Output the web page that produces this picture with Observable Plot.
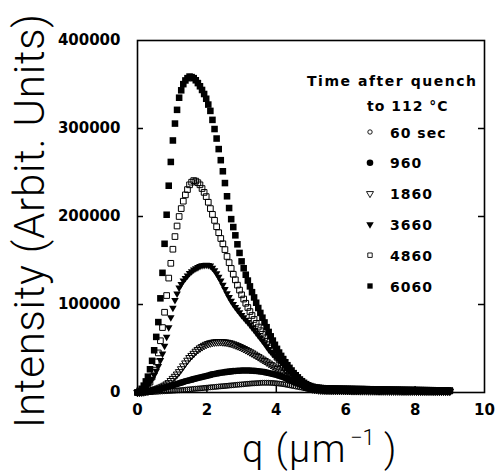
<!DOCTYPE html>
<html><head><meta charset="utf-8">
<script src="https://cdn.jsdelivr.net/npm/d3@7"></script>
<script src="https://cdn.jsdelivr.net/npm/@observablehq/plot@0.6"></script>
<style>html,body{margin:0;padding:0;background:#fff;}#chart{width:498px;height:472px;}</style>
</head><body><div id="chart"></div>
<script>
// q values (µm^-1), shared by all series
const q = [
0,0.06,0.12,0.18,0.24,0.3,0.36,0.42,0.48,0.54,
0.6,0.66,0.72,0.78,0.84,0.9,0.96,1.02,1.08,1.14,
1.2,1.26,1.32,1.38,1.44,1.5,1.56,1.62,1.68,1.74,
1.8,1.86,1.92,1.98,2.04,2.1,2.16,2.22,2.28,2.34,
2.4,2.46,2.52,2.58,2.64,2.7,2.76,2.82,2.88,2.94,
3,3.06,3.12,3.18,3.24,3.3,3.36,3.42,3.48,3.54,
3.6,3.66,3.72,3.78,3.84,3.9,3.96,4.02,4.08,4.14,
4.2,4.26,4.32,4.38,4.44,4.5,4.56,4.62,4.68,4.74,
4.8,4.86,4.92,4.98,5.04,5.1,5.16,5.22,5.28,5.34,
5.4,5.46,5.52,5.58,5.64,5.7,5.76,5.82,5.88,5.94,
6,6.06,6.12,6.18,6.24,6.3,6.36,6.42,6.48,6.54,
6.6,6.66,6.72,6.78,6.84,6.9,6.96,7.02,7.08,7.14,
7.2,7.26,7.32,7.38,7.44,7.5,7.56,7.62,7.68,7.74,
7.8,7.86,7.92,7.98,8.04,8.1,8.16,8.22,8.28,8.34,
8.4,8.46,8.52,8.58,8.64,8.7,8.76,8.82,8.88,8.94,
9];

const int60 = [
0,100,100,200,300,300,400,500,700,800,
1000,1200,1300,1500,1600,1800,1900,2100,2200,2400,
2500,2700,2900,3100,3400,3600,3800,4100,4300,4500,
4700,4900,5200,5400,5600,5900,6100,6300,6500,6800,
7000,7200,7400,7600,7900,8100,8300,8600,8800,9000,
9200,9400,9700,9900,10100,10300,10400,10600,10700,10900,
11000,11000,11000,11000,10900,10800,10600,10400,10100,9800,
9500,9100,8600,8200,7700,7300,6800,6400,5900,5500,
5000,4600,4100,3700,3300,3100,2900,2700,2600,2400,
2300,
2200,2200,2100,2100,2100,2000,2000,2000,2000,1900,
1900,1900,1900,1800,1800,1800,1800,1700,1700,1700,
1700,1700,1600,1600,1600,1600,1600,1500,1500,1500,
1500,1500,1500,1400,1400,1400,1400,1400,1400,1400,
1300,1300,1300,1300,1300,1300,1300,1300,1200,1200,
1200,1200,1200,1200,1200,1200,1200,1200,1200,1200];

const int960 = [
0,100,300,400,800,1200,1700,2100,2600,3000,
3500,4100,4700,5300,6000,6700,7500,8200,9000,9700,
10500,11200,12000,12700,13400,14000,14600,15200,15800,16400,
17000,17600,18200,18800,19400,20000,20600,21100,21600,22000,
22500,22800,23100,23400,23700,24000,24300,24500,24700,24800,
25000,25000,25000,25000,24900,24800,24600,24400,24100,23800,
23500,23100,22600,22200,21600,21000,20400,19800,19000,18300,
17500,16500,15400,14400,13300,12300,11200,10200,9300,8400,
7500,6700,6000,5200,4700,4300,3800,3400,3200,3000,
2800,
2700,2600,2600,2600,2500,2500,2500,2400,2400,2400,
2300,2300,2300,2200,2200,2200,2100,2100,2100,2000,
2000,2000,2000,1900,1900,1900,1900,1800,1800,1800,
1800,1800,1700,1700,1700,1700,1700,1600,1600,1600,
1600,1600,1600,1500,1500,1500,1500,1500,1500,1500,
1400,1400,1400,1400,1400,1400,1400,1400,1400,1400];

const int1860 = [
0,200,400,700,1100,1500,2100,2700,3300,4100,
5000,5900,6900,8100,9500,11000,13400,15800,18200,20800,
23500,26800,30100,33400,36500,39500,41900,44300,46700,48700,
50500,52000,53400,54600,55500,56300,56800,57300,57500,57600,
57700,57500,57300,56900,56400,55800,55000,54100,53100,52100,
51000,49800,48600,47400,46100,44800,43400,42000,40600,39100,
37700,36200,34700,33200,31700,30100,28500,27000,25400,23900,
22300,20700,19200,17600,16100,14500,13000,11500,10000,8600,
7200,6200,5300,4500,4000,3500,3200,2900,2700,2600,
2500,
2400,2400,2300,2300,2300,2200,2200,2200,2100,2100,
2100,2100,2000,2000,2000,2000,1900,1900,1900,1900,
1800,1800,1800,1800,1800,1700,1700,1700,1700,1700,
1600,1600,1600,1600,1600,1600,1500,1500,1500,1500,
1500,1500,1500,1400,1400,1400,1400,1400,1400,1400,
1400,1300,1300,1300,1300,1300,1300,1300,1300,1300];

const int3660 = [
0,600,1400,2600,5000,8000,11600,15400,19600,24600,
30000,36600,44000,53000,63200,74000,85400,96000,105000,112400,
119000,123200,127000,130000,132800,135500,137600,139500,141000,142300,
143500,144300,144800,145000,144600,144000,141600,138800,135200,131200,
127000,122200,117400,112600,108200,104000,100400,97000,94000,91000,
88000,85300,82600,79900,77000,74000,71000,68000,65000,62000,
59000,55700,52400,49100,46400,44000,41600,39200,36800,34400,
32000,29600,27200,24800,22400,20000,17600,15300,13200,11100,
9000,7500,6200,5300,4600,4000,3600,3300,3100,2900,
2800,
2700,2700,2600,2600,2600,2500,2500,2500,2400,2400,
2400,2300,2300,2300,2300,2200,2200,2200,2200,2100,
2100,2100,2100,2000,2000,2000,2000,2000,1900,1900,
1900,1900,1900,1800,1800,1800,1800,1800,1800,1700,
1700,1700,1700,1700,1700,1600,1600,1600,1600,1600,
1600,1600,1500,1500,1500,1500,1500,1500,1500,1500];

const int4860 = [
0,600,1400,2600,4600,7000,11800,17600,25400,34800,
45000,58800,73800,91200,110200,130000,146800,162800,177200,189200,
200000,209000,217400,224600,230600,236000,239000,240800,240200,238400,
236000,231800,227400,222600,216200,209000,202400,195600,188400,181600,
175000,169000,162400,154600,147600,141000,134400,128000,122000,116400,
111000,106200,101400,96600,92000,87500,83000,78600,74400,70200,
66000,62100,58200,54300,50600,47000,43400,40000,37000,34000,
31000,28300,25600,22900,20400,18000,15600,13300,11200,9500,
8000,6800,5800,5000,4500,4000,3800,3500,3400,3200,
3100,
3000,3000,2900,2900,2900,2800,2800,2800,2700,2700,
2700,2700,2600,2600,2600,2600,2500,2500,2500,2500,
2400,2400,2400,2400,2300,2300,2300,2300,2200,2200,
2200,2200,2200,2100,2100,2100,2100,2100,2000,2000,
2000,2000,2000,1900,1900,1900,1900,1900,1900,1800,
1800,1800,1800,1800,1800,1700,1700,1700,1700,1700];

const int6060 = [
0,1800,4200,7800,12600,18000,26400,36000,48000,63200,
80000,107000,136000,169000,202000,235000,262000,286400,305600,321200,
335000,343400,350400,354600,357200,359000,358400,357200,354800,351600,
348000,343800,339200,333800,327200,320000,309800,299400,288600,276600,
264000,251400,238000,223000,209600,197000,188000,178600,168400,158600,
149000,141200,133800,127200,120600,114000,108000,102000,96000,90400,
85000,79600,74200,68800,63800,59000,54200,49600,45400,41600,
38000,34400,31000,28000,25000,22000,19600,17200,14800,12800,
11000,9500,8200,7300,6600,6000,5700,5400,5100,4900,
4800,
4700,4600,4600,4500,4500,4400,4400,4300,4300,4200,
4200,4100,4100,4000,4000,3900,3900,3900,3800,3800,
3700,3700,3600,3600,3600,3500,3500,3400,3400,3400,
3300,3300,3200,3200,3200,3100,3100,3000,3000,3000,
2900,2900,2900,2800,2800,2800,2700,2700,2700,2600,
2600,2600,2500,2500,2500,2400,2400,2400,2300,2300];

const seriesLabels = ["60 sec", "960", "1860", "3660", "4860", "6060"];
const legendTitle = ["Time after quench", "to 112 \u00B0C"];
const xTicks = [0, 2, 4, 6, 8, 10];
const yTicks = [0, 100000, 200000, 300000, 400000];
const xInnerTicks = [2, 4, 6, 8];
const yInnerTicks = [100000, 200000, 300000];
const xLabel = ["q (\u03BCm", "\u22121", " )"];
const yLabel = "Intensity (Arbit. Units)";

// ---- layout ----
const W = 498, H = 472, mL = 137, mR = 14, mT = 40, mB = 80;
const pw = W - mL - mR, ph = H - mT - mB;

const triangleDown = {
  draw(ctx, size) {
    const y = -Math.sqrt(size / (Math.sqrt(3) * 3));
    ctx.moveTo(0, -2 * y);
    ctx.lineTo(-Math.sqrt(3) * y, y);
    ctx.lineTo(Math.sqrt(3) * y, y);
    ctx.closePath();
  }
};

const styles = [
  {symbol: d3.symbolCircle, filled: false, r: 2.5, lr: 2.2},
  {symbol: d3.symbolCircle, filled: true,  r: 3.3, lr: 3.3},
  {symbol: triangleDown,    filled: false, r: 2.8, lr: 2.6},
  {symbol: triangleDown,    filled: true,  r: 2.8, lr: 2.8},
  {symbol: d3.symbolSquare, filled: false, r: 3.2, lr: 2.5},
  {symbol: d3.symbolSquare, filled: true,  r: 3.7, lr: 3.0}
];
const allValues = [int60, int960, int1860, int3660, int4860, int6060];

const rows = allValues.map(vals => q.map((qq, i) => ({q: qq, I: vals[i]})));

const dotMarks = rows.map((data, k) => {
  const s = styles[k];
  return Plot.dot(data, {
    x: "q", y: "I", symbol: s.symbol, r: s.r,
    fill: s.filled ? "black" : "none",
    stroke: s.filled ? "none" : "black",
    strokeWidth: s.filled ? 0 : 1
  });
});

const chart = Plot.plot({
  width: W, height: H,
  marginLeft: mL, marginRight: mR, marginTop: mT, marginBottom: mB,
  x: {domain: [0, 10]},
  y: {domain: [0, 400000]},
  style: {background: "white", color: "black", fontFamily: "'DejaVu Sans', sans-serif", fontSize: "15px", fontWeight: "bold"},
  marks: [
    ...dotMarks,
    Plot.frame({stroke: "black", strokeWidth: 1.6}),
    Plot.tickX(xInnerTicks, {x: d => d, insetTop: ph - 6, stroke: "black", strokeWidth: 1.5}),
    Plot.tickY(yInnerTicks, {y: d => d, insetRight: pw - 6, stroke: "black", strokeWidth: 1.5}),
    Plot.tickY(yInnerTicks, {y: d => d, insetLeft: pw - 6, stroke: "black", strokeWidth: 1.5}),
    Plot.axisX(xTicks, {tickSize: 0, tickPadding: 12, label: null}),
    Plot.axisY(yTicks, {tickSize: 0, tickPadding: 17, label: null, tickFormat: d => String(d)})
  ]
});

document.getElementById("chart").appendChild(chart);
const svg = d3.select(chart);

// y label
svg.append("text")
  .attr("transform", `translate(44,${221}) rotate(-90)`)
  .attr("text-anchor", "middle")
  .attr("font-family", "Roboto, 'Liberation Sans', Arial, sans-serif")
  .attr("font-size", 42).attr("font-weight", 300)
  .attr("textLength", 414).attr("lengthAdjust", "spacing")
  .attr("fill", "black")
  .text(yLabel);

// x label
const xl = svg.append("text")
  .attr("x", 242).attr("y", 462)
  .attr("text-anchor", "start")
  .attr("font-family", "Roboto, 'Liberation Sans', Arial, sans-serif")
  .attr("font-size", 38).attr("font-weight", 300)
  .attr("fill", "black");
xl.append("tspan").attr("letter-spacing", 1.5).text(xLabel[0]);
xl.append("tspan").attr("font-size", 22).attr("dy", -17).attr("dx", 3).text(xLabel[1]);
xl.append("tspan").attr("dy", 17).text(xLabel[2]);

// legend
const lg = svg.append("g")
  .attr("font-family", "'DejaVu Sans', sans-serif")
  .attr("font-size", 14).attr("font-weight", "bold")
  .attr("text-anchor", "start")
  .attr("letter-spacing", 1).attr("fill", "black");
lg.append("text").attr("x", 307).attr("y", 86).attr("textLength", 170).attr("lengthAdjust", "spacing").text(legendTitle[0]);
lg.append("text").attr("x", 367).attr("y", 111).text(legendTitle[1]);
const rowY = k => 132 + k * 30.8;
seriesLabels.forEach((lab, k) => {
  const s = styles[k];
  lg.append("path")
    .attr("transform", `translate(370,${rowY(k)})`)
    .attr("d", d3.symbol(s.symbol, Math.PI * s.lr * s.lr)())
    .attr("fill", s.filled ? "black" : "none")
    .attr("stroke", s.filled ? "none" : "black")
    .attr("stroke-width", 0.9);
  lg.append("text").attr("x", 390).attr("y", rowY(k) + 5.5).text(lab);
});
</script>
</body></html>
